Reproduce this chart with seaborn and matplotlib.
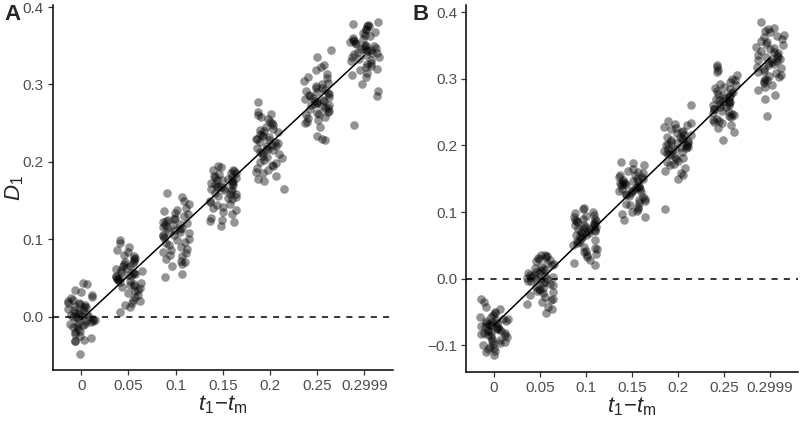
import numpy as np
import pandas as pd
import matplotlib
matplotlib.use("Agg")
import matplotlib.pyplot as plt
import seaborn as sns

# ---- data ----
categories = ["0", "0.05", "0.1", "0.15", "0.2", "0.25", "0.2999"]

a_vals = [
    [0.043, 0.042, 0.035, 0.032, 0.028, 0.025, 0.024, 0.022, 0.02, 0.018, 0.017, 0.016, 0.015, 0.014, 0.013,
     0.012, 0.01, 0.009, 0.008, 0.006, 0.005, 0.004, 0.003, 0.002, 0.001, 0.0, 0.0, -0.001, -0.002, -0.003,
     -0.004, -0.005, -0.006, -0.007, -0.008, -0.009, -0.01, -0.011, -0.012, -0.014, -0.016, -0.018, -0.02,
     -0.022, -0.025, -0.028, -0.03, -0.031, -0.032, -0.048],
    [0.099, 0.095, 0.09, 0.086, 0.083, 0.08, 0.078, 0.076, 0.074, 0.072, 0.07, 0.069, 0.068, 0.066, 0.065,
     0.063, 0.062, 0.06, 0.059, 0.058, 0.057, 0.056, 0.055, 0.054, 0.053, 0.052, 0.051, 0.05, 0.049, 0.048,
     0.047, 0.046, 0.045, 0.044, 0.042, 0.041, 0.04, 0.038, 0.037, 0.035, 0.033, 0.03, 0.028, 0.025, 0.022,
     0.02, 0.018, 0.015, 0.012, 0.006],
    [0.16, 0.155, 0.15, 0.145, 0.14, 0.138, 0.136, 0.134, 0.132, 0.13, 0.128, 0.126, 0.125, 0.124, 0.122,
     0.121, 0.12, 0.119, 0.118, 0.116, 0.115, 0.114, 0.113, 0.112, 0.11, 0.109, 0.108, 0.106, 0.105, 0.104,
     0.102, 0.1, 0.099, 0.097, 0.095, 0.093, 0.09, 0.088, 0.086, 0.084, 0.082, 0.08, 0.078, 0.075, 0.072,
     0.07, 0.068, 0.066, 0.055, 0.051],
    [0.195, 0.193, 0.19, 0.189, 0.188, 0.186, 0.185, 0.184, 0.182, 0.181, 0.18, 0.179, 0.178, 0.177, 0.176,
     0.175, 0.174, 0.173, 0.172, 0.171, 0.17, 0.169, 0.168, 0.167, 0.166, 0.165, 0.164, 0.163, 0.162, 0.16,
     0.159, 0.158, 0.156, 0.155, 0.153, 0.152, 0.15, 0.148, 0.146, 0.144, 0.142, 0.14, 0.138, 0.135, 0.132,
     0.128, 0.125, 0.123, 0.122, 0.117],
    [0.277, 0.265, 0.262, 0.26, 0.258, 0.255, 0.252, 0.25, 0.247, 0.245, 0.243, 0.241, 0.24, 0.238, 0.236,
     0.235, 0.233, 0.232, 0.23, 0.229, 0.228, 0.226, 0.225, 0.224, 0.222, 0.221, 0.22, 0.218, 0.217, 0.216,
     0.215, 0.213, 0.212, 0.21, 0.208, 0.206, 0.205, 0.203, 0.2, 0.198, 0.196, 0.194, 0.192, 0.19, 0.187,
     0.185, 0.182, 0.178, 0.175, 0.165],
    [0.345, 0.335, 0.325, 0.322, 0.318, 0.314, 0.31, 0.308, 0.305, 0.302, 0.3, 0.298, 0.296, 0.295, 0.293,
     0.292, 0.29, 0.289, 0.288, 0.286, 0.285, 0.284, 0.282, 0.281, 0.28, 0.279, 0.278, 0.277, 0.276, 0.275,
     0.274, 0.273, 0.272, 0.27, 0.269, 0.268, 0.266, 0.265, 0.263, 0.262, 0.26, 0.258, 0.256, 0.254, 0.252,
     0.25, 0.245, 0.233, 0.23, 0.228],
    [0.381, 0.378, 0.377, 0.376, 0.375, 0.372, 0.37, 0.368, 0.366, 0.364, 0.362, 0.36, 0.359, 0.358, 0.356,
     0.355, 0.354, 0.352, 0.351, 0.35, 0.349, 0.348, 0.347, 0.346, 0.345, 0.344, 0.343, 0.342, 0.341, 0.34,
     0.339, 0.338, 0.336, 0.335, 0.333, 0.332, 0.33, 0.328, 0.326, 0.324, 0.322, 0.32, 0.318, 0.315, 0.312,
     0.31, 0.3, 0.292, 0.285, 0.247],
]

b_vals = [
    [-0.03, -0.035, -0.042, -0.045, -0.05, -0.052, -0.055, -0.057, -0.058, -0.06, -0.061, -0.062, -0.063,
     -0.064, -0.065, -0.066, -0.067, -0.068, -0.069, -0.07, -0.071, -0.072, -0.073, -0.074, -0.075, -0.076,
     -0.077, -0.078, -0.079, -0.08, -0.081, -0.082, -0.083, -0.084, -0.085, -0.086, -0.088, -0.09, -0.092,
     -0.094, -0.095, -0.097, -0.098, -0.1, -0.102, -0.104, -0.106, -0.108, -0.11, -0.115],
    [0.036, 0.035, 0.034, 0.033, 0.031, 0.03, 0.028, 0.026, 0.024, 0.022, 0.02, 0.018, 0.016, 0.015, 0.013,
     0.012, 0.01, 0.009, 0.008, 0.006, 0.005, 0.004, 0.003, 0.002, 0.001, 0.0, -0.001, -0.002, -0.003, -0.004,
     -0.005, -0.006, -0.008, -0.01, -0.012, -0.014, -0.015, -0.017, -0.019, -0.02, -0.022, -0.025, -0.028,
     -0.03, -0.032, -0.035, -0.038, -0.042, -0.046, -0.052],
    [0.106, 0.104, 0.1, 0.098, 0.096, 0.094, 0.092, 0.09, 0.089, 0.088, 0.087, 0.086, 0.085, 0.084, 0.082,
     0.081, 0.08, 0.079, 0.078, 0.077, 0.076, 0.075, 0.074, 0.073, 0.072, 0.071, 0.07, 0.069, 0.068, 0.066,
     0.065, 0.064, 0.062, 0.06, 0.058, 0.056, 0.055, 0.053, 0.05, 0.048, 0.046, 0.044, 0.042, 0.04, 0.037,
     0.035, 0.032, 0.028, 0.024, 0.02],
    [0.175, 0.174, 0.17, 0.165, 0.162, 0.16, 0.158, 0.156, 0.155, 0.153, 0.152, 0.15, 0.149, 0.148, 0.147,
     0.146, 0.145, 0.144, 0.143, 0.142, 0.141, 0.14, 0.139, 0.138, 0.137, 0.136, 0.135, 0.134, 0.133, 0.132,
     0.131, 0.13, 0.128, 0.127, 0.126, 0.124, 0.122, 0.12, 0.118, 0.116, 0.114, 0.112, 0.11, 0.108, 0.105,
     0.102, 0.1, 0.097, 0.093, 0.088],
    [0.26, 0.236, 0.234, 0.232, 0.23, 0.228, 0.226, 0.224, 0.222, 0.22, 0.218, 0.216, 0.215, 0.213, 0.212,
     0.21, 0.209, 0.208, 0.206, 0.205, 0.204, 0.203, 0.202, 0.201, 0.2, 0.199, 0.198, 0.197, 0.196, 0.195,
     0.194, 0.193, 0.192, 0.19, 0.189, 0.187, 0.185, 0.183, 0.181, 0.179, 0.177, 0.175, 0.172, 0.17, 0.166,
     0.162, 0.158, 0.155, 0.15, 0.104],
    [0.32, 0.318, 0.313, 0.31, 0.305, 0.3, 0.298, 0.295, 0.292, 0.29, 0.288, 0.286, 0.284, 0.282, 0.28,
     0.278, 0.277, 0.275, 0.274, 0.272, 0.271, 0.27, 0.268, 0.267, 0.266, 0.265, 0.264, 0.262, 0.261, 0.26,
     0.258, 0.257, 0.255, 0.254, 0.252, 0.25, 0.249, 0.247, 0.245, 0.244, 0.242, 0.24, 0.238, 0.236, 0.235,
     0.233, 0.23, 0.226, 0.22, 0.208],
    [0.385, 0.376, 0.374, 0.372, 0.37, 0.366, 0.364, 0.362, 0.36, 0.357, 0.355, 0.352, 0.35, 0.348, 0.346,
     0.344, 0.342, 0.34, 0.338, 0.336, 0.335, 0.333, 0.332, 0.33, 0.329, 0.328, 0.326, 0.325, 0.324, 0.322,
     0.32, 0.318, 0.316, 0.314, 0.312, 0.31, 0.308, 0.306, 0.304, 0.302, 0.3, 0.298, 0.296, 0.293, 0.29,
     0.287, 0.283, 0.276, 0.27, 0.244],
]

a_yticks = [0.0, 0.1, 0.2, 0.3, 0.4]
b_yticks = [-0.1, 0.0, 0.1, 0.2, 0.3, 0.4]


def to_frame(groups):
    rows = []
    for i, (cat, vals) in enumerate(zip(categories, groups)):
        for v in vals:
            rows.append({"cat": cat, "idx": i, "D": v})
    return pd.DataFrame(rows)


def fmt(t):
    s = f"{t:.1f}"
    return s.replace("-", "\u2212")


sns.set_theme(style="ticks")
plt.rcParams["font.family"] = ["Liberation Sans", "DejaVu Sans"]
plt.rcParams["mathtext.fontset"] = "custom"
plt.rcParams["mathtext.rm"] = "Liberation Sans"
plt.rcParams["mathtext.it"] = "Liberation Sans:italic"

np.random.seed(3)
fig = plt.figure(figsize=(8, 4.21), dpi=100)
ax_a = fig.add_axes([0.066, 0.121, 0.425, 0.866])
ax_b = fig.add_axes([0.583, 0.116, 0.414, 0.871])

panels = [(ax_a, a_vals, a_yticks, (-0.069, 0.402)),
          (ax_b, b_vals, b_yticks, (-0.14, 0.41))]

for ax, groups, yticks, ylim in panels:
    df = to_frame(groups)
    ax.axhline(0, color="black", lw=1.1, ls=(0, (4, 4)), zorder=1)
    sns.stripplot(data=df, x="cat", y="D", order=categories, ax=ax, jitter=0.3,
                  color="black", alpha=0.42, size=6.2, linewidth=0, zorder=2)
    sns.regplot(data=df, x="idx", y="D", ax=ax, scatter=False, ci=None, truncate=True,
                color="black", line_kws={"lw": 1.1, "zorder": 3})
    ax.set_xlim(-0.6, 6.6)
    ax.set_ylim(*ylim)
    ax.set_xticks(range(len(categories)))
    ax.set_xticklabels(categories)
    ax.set_yticks(yticks)
    ax.set_yticklabels([fmt(t) for t in yticks])
    ax.tick_params(axis="both", labelsize=11, labelcolor="#4d4d4d", color="#333333",
                   length=3.5, width=0.9, pad=3)
    for s in ["top", "right"]:
        ax.spines[s].set_visible(False)
    for s in ["left", "bottom"]:
        ax.spines[s].set_linewidth(1.1)
        ax.spines[s].set_color("black")
    ax.set_xlabel(r"$t_{\mathrm{1}}\!-\!t_{\mathrm{m}}$", fontsize=16, labelpad=0)
    ax.set_ylabel("")

ax_a.set_ylabel(r"$D_{\mathrm{1}}$", fontsize=16)
ax_a.yaxis.set_label_coords(-0.08, 0.5)
fig.text(0.006, 0.952, "A", fontsize=16, fontweight="bold")
fig.text(0.515, 0.952, "B", fontsize=16, fontweight="bold")

fig.savefig("out.png", dpi=100)
